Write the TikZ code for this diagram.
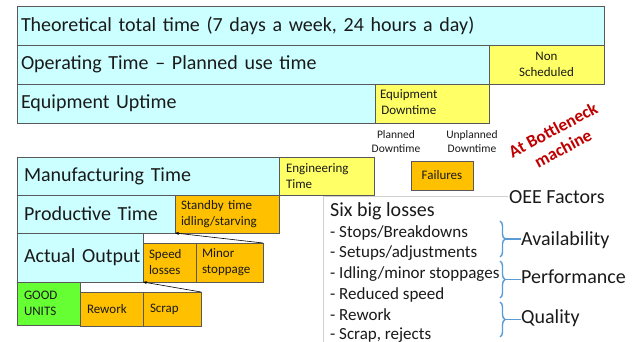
\documentclass[tikz,border=0pt]{standalone}
\usepackage{fontspec}
\setmainfont{Carlito}
\usetikzlibrary{arrows.meta,decorations.pathreplacing}
\definecolor{cy}{HTML}{CCFFFF}
\definecolor{ye}{HTML}{FFFF66}
\definecolor{og}{HTML}{FFC000}
\definecolor{gr}{HTML}{66FF33}
\definecolor{bd}{HTML}{595959}
\definecolor{brc}{HTML}{5B9BD5}
\definecolor{rd}{HTML}{C00000}
\definecolor{fr}{HTML}{D0D0D0}
\definecolor{tx}{HTML}{1A1A1A}
\tikzset{
  box/.style={draw=bd, line width=0.9pt, anchor=north west, inner ysep=0pt, outer sep=0pt, align=left, text=tx},
  big/.style={font=\fontsize{20}{24}\selectfont},
  sml/.style={font=\fontsize{13}{16}\selectfont},
  tny/.style={font=\fontsize{11.5}{14}\selectfont, align=center, text=tx},
  lst/.style={font=\fontsize{17}{20}\selectfont, anchor=west, inner sep=0pt, text=tx},
  conn/.style={draw=black, line width=0.6pt, -{Stealth[length=4pt,width=3pt]}},
  bracestyle/.style={draw=brc, line width=1.4pt},
  framestyle/.style={draw=fr, line width=0.7pt}
}
\begin{document}
\begin{tikzpicture}[x=1pt,y=-1pt]
\clip (0,0) rectangle (638,342);
\useasboundingbox (0,0) rectangle (638,342);
\fill[white] (0,0) rectangle (638,342);

% light frame of the text area
\coordinate (fa) at (323,350);
\coordinate (fb) at (323,196);
\node[big, anchor=west, inner sep=1pt, text=tx] (oee) at (508,197) {OEE Factors};
\draw[framestyle] (fa) -- (fb) -- (fb -| oee.west);

% upper block
\node[box, big, fill=cy, minimum height=39, text width=579pt, inner xsep=4pt] (theo) at (17,6) {\mbox{Theoretical total time (7 days a week, 24 hours a day)}};
\node[box, big, fill=cy, minimum height=39, text width=464pt, inner xsep=4pt] (oper) at (17,45) {\mbox{Operating Time – Planned use time}};
\node[box, sml, fill=ye, minimum height=39, text width=111pt, inner xsep=2pt, align=center] (nons) at (489,45) {Non\\Scheduled};
\node[box, big, fill=cy, minimum height=39, text width=350pt, inner xsep=4pt] (equp) at (17,84) {\mbox{Equipment Uptime}};
\node[box, sml, fill=ye, minimum height=39, text width=104pt, inner xsep=5pt] (eqdn) at (375,84) {\begin{tabular}{@{}c@{}}Equipment\\Downtime\end{tabular}};

\node[tny] (pdt) at (396,142) {Planned\\Downtime};
\node[tny] (udt) at (472,142) {Unplanned\\Downtime};

\node[font=\bfseries\fontsize{17.5}{21}\selectfont, text=rd, rotate=28, align=center] (btl) at (558,139) {At Bottleneck\\machine};

% lower block
\node[box, big, fill=cy, minimum height=38, text width=248pt, inner xsep=7pt] (mfg) at (17,157) {\mbox{Manufacturing Time}};
\node[box, sml, fill=ye, minimum height=38, text width=81pt, inner xsep=7pt] (engt) at (279,157) {Engineering\\Time};
\node[box, big, fill=cy, minimum height=38, text width=144pt, inner xsep=7pt] (prod) at (17,195) {\mbox{Productive Time}};
\node[box, sml, fill=og, minimum height=38, text width=92pt, inner xsep=6pt] (stby) at (175,195) {\mbox{Standby time}\\\mbox{idling/starving}};
\node[box, big, fill=cy, minimum height=49, text width=112pt, inner xsep=7pt] (act) at (17,233) {\mbox{Actual Output}};
\node[box, sml, fill=og, minimum height=39, text width=41pt, inner xsep=6pt] (spd) at (143,243) {Speed\\losses};
\node[box, sml, fill=og, minimum height=39, text width=55pt, inner xsep=6pt] (mnr) at (196,243) {Minor\\stoppage};
\node[box, sml, fill=gr, minimum height=43, text width=49pt, inner xsep=7pt] (good) at (17,282) {GOOD\\UNITS};
\node[box, sml, fill=og, minimum height=34, text width=49pt, inner xsep=7pt] (rwk) at (80,292) {Rework};
\node[box, sml, fill=og, minimum height=34, text width=44pt, inner xsep=7pt] (scr) at (143,292) {Scrap};
\node[box, sml, fill=og, minimum height=29, text width=58pt, inner xsep=2pt, align=center] (fail) at (411,161) {Failures};

\draw[conn] (mnr.north east) -- (prod.south east);
\draw[conn] (scr.north east) -- (act.south east);

% six big losses
\node[big, anchor=west, inner sep=0pt, text=tx] (six) at (330,211) {Six big losses};
\node[lst] (l1) at (330,233) {- Stops/Breakdowns};
\node[lst] (l2) at (330,253.5) {- Setups/adjustments};
\node[lst] (l3) at (330,274) {- Idling/minor stoppages};
\node[lst] (l4) at (330,294.5) {- Reduced speed};
\node[lst] (l5) at (330,315) {- Rework};
\node[lst] (l6) at (330,335.5) {- Scrap, rejects};

% OEE factors with braces
\node[big, anchor=west, inner sep=0pt, text=tx] (av) at (521,240) {Availability};
\node[big, anchor=west, inner sep=0pt, text=tx] (pf) at (521,277) {Performance};
\node[big, anchor=west, inner sep=0pt, text=tx] (ql) at (521,318) {Quality};

\coordinate (a1) at (500,221); \coordinate (a2) at (500,257);
\coordinate (b1) at (500,261); \coordinate (b2) at (500,298);
\coordinate (c1) at (500,302); \coordinate (c2) at (500,337);
\coordinate (ta) at (505,239);
\coordinate (tb) at (505,279.5);
\coordinate (tc) at (505,319.5);
\draw[bracestyle, decorate, decoration={brace, amplitude=5pt}] (a1) -- (a2);
\draw[bracestyle, decorate, decoration={brace, amplitude=5pt}] (b1) -- (b2);
\draw[bracestyle, decorate, decoration={brace, amplitude=5pt}] (c1) -- (c2);
\draw[bracestyle, line width=1.1pt] (ta) -- (ta -| av.west);
\draw[bracestyle, line width=1.1pt] (tb) -- (tb -| pf.west);
\draw[bracestyle, line width=1.1pt] (tc) -- (tc -| ql.west);
\end{tikzpicture}
\end{document}
